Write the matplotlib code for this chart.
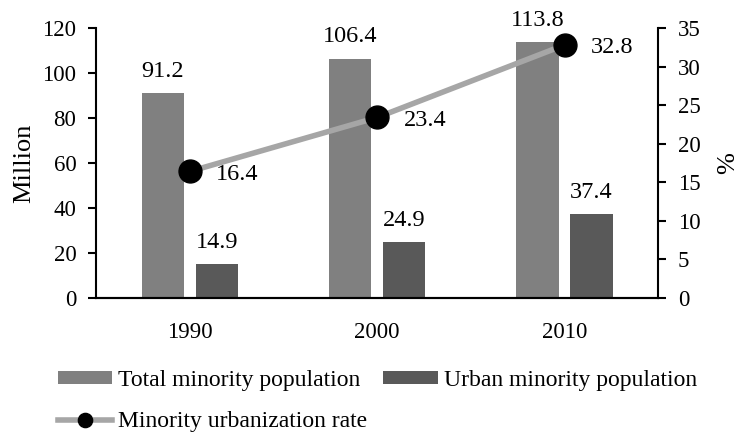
import numpy as np
import matplotlib
matplotlib.use("Agg")
import matplotlib.pyplot as plt

plt.rcParams['font.family'] = ['Liberation Serif', 'DejaVu Serif']

# data
years = ['1990', '2000', '2010']
total_pop = [91.2, 106.4, 113.8]
urban_pop = [14.9, 24.9, 37.4]
urban_rate = [16.4, 23.4, 32.8]

tick_fs = 16.5
lab_fs = 17.5
fig = plt.figure(figsize=(7.38, 4.34), dpi=100)
ax = fig.add_axes([0.130, 0.3134, 0.762, 0.6221])
ax2 = ax.twinx()

x = np.arange(len(years))
w = 0.225
off = 0.144
b1 = ax.bar(x - off, total_pop, w, color='#808080', label='Total minority population', zorder=2)
b2 = ax.bar(x + off, urban_pop, w, color='#595959', label='Urban minority population', zorder=2)

for xi, v in zip(x, total_pop):
    ax.annotate(f'{v}', (xi - off, v), xytext=(0, 8), textcoords='offset points',
                ha='center', va='bottom', fontsize=lab_fs)
for xi, v in zip(x, urban_pop):
    ax.annotate(f'{v}', (xi + off, v), xytext=(0, 8), textcoords='offset points',
                ha='center', va='bottom', fontsize=lab_fs)

ln, = ax2.plot(x, urban_rate, color='#a6a6a6', lw=4, marker='o', markersize=16.5,
               markerfacecolor='black', markeredgecolor='black',
               label='Minority urbanization rate', zorder=3)
for xi, v in zip(x, urban_rate):
    ax2.annotate(f'{v}', (xi, v), xytext=(19, -2), textcoords='offset points',
                 ha='left', va='center', fontsize=lab_fs)

ax.set_xlim(-0.5, 2.5)
ax.set_ylim(0, 120)
ax.set_yticks(range(0, 121, 20))
ax2.set_ylim(0, 35)
ax2.set_yticks(range(0, 36, 5))
ax.set_xticks(x)
ax.set_xticklabels(years)

for a in (ax, ax2):
    a.spines['top'].set_visible(False)
    a.spines['left'].set_linewidth(1.5)
    a.spines['right'].set_linewidth(1.5)
    a.spines['bottom'].set_linewidth(1.5)
    a.tick_params(axis='y', labelsize=tick_fs, length=6, width=1.5, direction='out', pad=8)
ax.spines['right'].set_visible(False)
ax2.spines['left'].set_visible(False)
ax.tick_params(axis='x', labelsize=tick_fs, length=0, pad=17)

ax.set_ylabel('Million', fontsize=19, labelpad=5)
ax2.set_ylabel('%', fontsize=19, labelpad=12)

fig.legend(handles=[b1, ln, b2], ncol=2, loc='upper left', bbox_to_anchor=(0.078, 0.147),
           frameon=False, fontsize=17, handlelength=2.3, handleheight=0.47,
           handletextpad=0.25, columnspacing=0.7, labelspacing=0.85, borderpad=0,
           borderaxespad=0, markerscale=0.62)

fig.savefig('out.png', dpi=100)
